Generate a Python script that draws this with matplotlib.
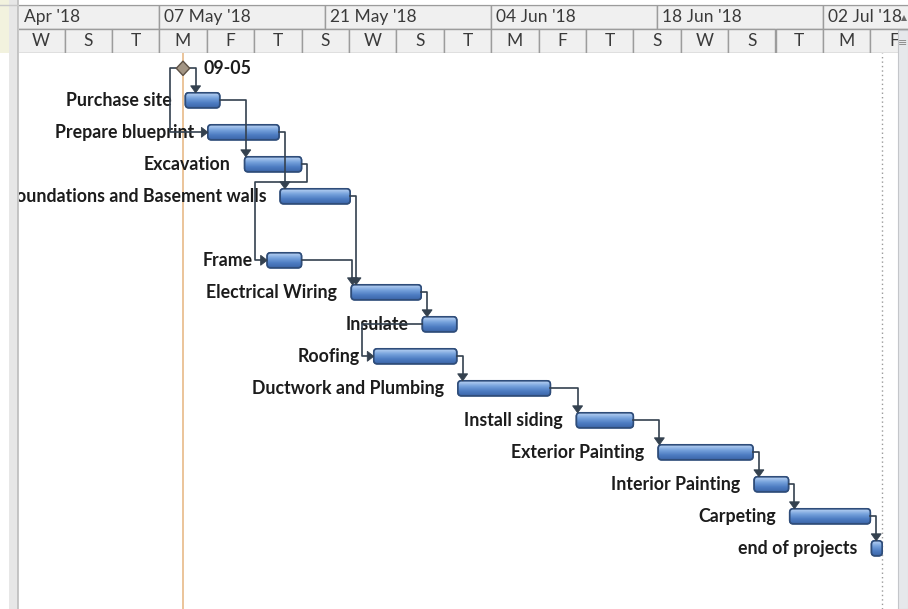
#!/usr/bin/env python3
"""Gantt chart (MS Project style) for a house building schedule."""

import numpy as np
import matplotlib
matplotlib.use("Agg")
import matplotlib.pyplot as plt
from matplotlib.patches import Rectangle, FancyBboxPatch, Polygon
from matplotlib.colors import LinearSegmentedColormap

# ---- data (days counted from Mon 07 May 2018) ----
REF_DATE = np.datetime64("2018-05-07")

milestone_label = "09-05"
milestone_day = 2.0
milestone_row = 0

task_names = ["Purchase site", "Prepare blueprint", "Excavation",
              "Foundations and Basement walls", "Frame", "Electrical Wiring",
              "Insulate", "Roofing", "Ductwork and Plumbing", "Install siding",
              "Exterior Painting", "Interior Painting", "Carpeting",
              "end of projects"]
task_rows = [1, 2, 3, 4, 6, 7, 8, 9, 10, 11, 12, 13, 14, 15]
task_start = [2.2, 4.1, 7.2, 10.2, 9.1, 16.2, 22.2, 18.1, 25.2, 35.2,
              42.1, 50.2, 53.2, 60.1]
task_finish = [5.1, 10.1, 12.0, 16.1, 12.0, 22.1, 25.1, 25.1, 33.0, 40.0,
               50.1, 53.1, 60.0, 61.0]

links = [
    ("09-05", "Purchase site", "FS"),
    ("09-05", "Prepare blueprint", "SS"),
    ("Purchase site", "Excavation", "FS"),
    ("Prepare blueprint", "Foundations and Basement walls", "FS"),
    ("Excavation", "Frame", "FS"),
    ("Foundations and Basement walls", "Electrical Wiring", "FS"),
    ("Frame", "Electrical Wiring", "FS"),
    ("Electrical Wiring", "Insulate", "FS"),
    ("Insulate", "Roofing", "SS"),
    ("Roofing", "Ductwork and Plumbing", "FS"),
    ("Ductwork and Plumbing", "Install siding", "FS"),
    ("Install siding", "Exterior Painting", "FS"),
    ("Exterior Painting", "Interior Painting", "FS"),
    ("Interior Painting", "Carpeting", "FS"),
    ("Carpeting", "end of projects", "FS"),
]

status_day = 2.0
finish_marker_day = 61.0

top_tier_dates = ["2018-04-23", "2018-05-07", "2018-05-21", "2018-06-04",
                  "2018-06-18", "2018-07-02"]
top_tier_labels = ["Apr '18", "07 May '18", "21 May '18", "04 Jun '18",
                   "18 Jun '18", "02 Jul '18"]
bottom_tier_first = "2018-04-25"
bottom_tier_labels = ["W", "S", "T", "M", "F", "T", "S", "W", "S", "T",
                      "M", "F", "T", "S", "W", "S", "T", "M", "F"]

# ---- layout (pixels of the 908x609 picture) ----
W, H = 908, 609
X0_PX, PX_PER_DAY = 159.3, 11.85
Y0_PX, PX_PER_ROW = 68.3, 32.0


def day_at(px):
    return (px - X0_PX) / PX_PER_DAY


def row_at(py):
    return (py - Y0_PX) / PX_PER_ROW


def frac(x0, y0, x1, y1):
    return [x0 / W, 1 - y1 / H, (x1 - x0) / W, (y1 - y0) / H]


def clean(ax):
    ax.set_xticks([])
    ax.set_yticks([])
    for s in ax.spines.values():
        s.set_visible(False)


FONT = "Lato"
LABEL_SIZE = 12.8
HDR_SIZE = 12.5
LINE_C = "#34414f"
BAR_EDGE = "#2f4d7a"
bar_cmap = LinearSegmentedColormap.from_list(
    "bar", ["#b6d0f2", "#76a2dc", "#4d7cc2", "#3c66a8"])

fig = plt.figure(figsize=(W / 100, H / 100), dpi=100)

# background decoration
bg = fig.add_axes([0, 0, 1, 1])
bg.set_xlim(0, W)
bg.set_ylim(H, 0)
bg.axis("off")
bg.add_patch(Rectangle((0, 0), 9, 53, fc="#f2f2de", ec="none"))
bg.add_patch(Rectangle((9, 0), 9, H, fc="#e7e7e7", ec="none"))
bg.plot([17.5, 17.5], [0, H], color="#bcbcbc", lw=1.2)
bg.plot([0, W], [4.5, 4.5], color="#c8c8c8", lw=1)

# ---- header ----
hdr = fig.add_axes(frac(19, 5, 908, 53))
clean(hdr)
hx0, hx1 = day_at(19), day_at(908)
for d, lab in zip(top_tier_dates, top_tier_labels):
    s = float((np.datetime64(d) - REF_DATE) / np.timedelta64(1, "D"))
    hdr.add_patch(Rectangle((s, 0), 14, 1, fc="#f0f0f0", ec="#9c9c9c", lw=1))
    hdr.text(max(s, hx0) + 0.4, 0.52, lab, ha="left", va="center",
             fontsize=HDR_SIZE, family=FONT, color="#3a3a3a", clip_on=True)
b0 = float((np.datetime64(bottom_tier_first) - REF_DATE) / np.timedelta64(1, "D"))
for i, lab in enumerate(bottom_tier_labels):
    s = b0 + 4 * i
    hdr.add_patch(Rectangle((s, 1), 4, 1, fc="#f0f0f0", ec="#9c9c9c", lw=1))
    hdr.text(s + 2, 1.52, lab, ha="center", va="center",
             fontsize=HDR_SIZE, family=FONT, color="#3a3a3a", clip_on=True)
hdr.set_xlim(hx0, hx1)
hdr.set_ylim(2, 0)

# ---- body ----
ax = fig.add_axes(frac(19, 53, 898, 609))
clean(ax)
ax.set_facecolor("white")

bar_h = 15 / PX_PER_ROW
round_px = 3.5
rs = round_px / PX_PER_DAY
asp = PX_PER_DAY / PX_PER_ROW
grad = np.linspace(0, 1, 40).reshape(-1, 1)

ax.axvline(status_day, color="#e6b47e", lw=1.1, zorder=1)
ax.axvline(finish_marker_day, color="#9a9a9a", lw=1.0, ls=(0, (1, 2.2)), zorder=1)

for name, r, s, f in zip(task_names, task_rows, task_start, task_finish):
    patch = FancyBboxPatch((s, r - bar_h / 2), f - s, bar_h,
                           boxstyle=f"round,pad=0,rounding_size={rs}",
                           mutation_aspect=asp, fc="#5d8ed4", ec=BAR_EDGE,
                           lw=1.1, zorder=3)
    ax.add_patch(patch)
    im = ax.imshow(grad, extent=[s, f, r + bar_h / 2, r - bar_h / 2],
                   cmap=bar_cmap, aspect="auto", zorder=3.1, interpolation="bilinear")
    im.set_clip_path(patch)
    edge = FancyBboxPatch((s, r - bar_h / 2), f - s, bar_h,
                          boxstyle=f"round,pad=0,rounding_size={rs}",
                          mutation_aspect=asp, fc="none", ec=BAR_EDGE,
                          lw=1.2, zorder=3.2)
    ax.add_patch(edge)
    ax.text(s - 14 / PX_PER_DAY, r, name, ha="right", va="center",
            fontsize=LABEL_SIZE, family=FONT, weight="bold", color="#1c1c1c",
            zorder=2, clip_on=True)

# milestone
mw, mh = 6.7 / PX_PER_DAY, 7.2 / PX_PER_ROW
ax.add_patch(Polygon([(milestone_day - mw, milestone_row),
                      (milestone_day, milestone_row - mh),
                      (milestone_day + mw, milestone_row),
                      (milestone_day, milestone_row + mh)],
                     closed=True, fc="#a39584", ec="#5e5246", lw=1.0, zorder=5))
ax.text(milestone_day + 21 / PX_PER_DAY, milestone_row, milestone_label,
        ha="left", va="center", fontsize=LABEL_SIZE, family=FONT, weight="bold",
        color="#1c1c1c", zorder=2)

# lookup for link routing: (date start, date finish, draw start, draw finish, row)
items = {milestone_label: (milestone_day, milestone_day,
                           milestone_day - mw, milestone_day + mw, milestone_row)}
for name, r, s, f in zip(task_names, task_rows, task_start, task_finish):
    items[name] = (s, f, s, f, r)

ah_w, ah_l = 5 / PX_PER_DAY, 7 / PX_PER_ROW      # down arrow
ar_l, ar_w = 6.5 / PX_PER_DAY, 5 / PX_PER_ROW    # right arrow


def down_arrow(x, y_tip):
    ax.add_patch(Polygon([(x - ah_w, y_tip - ah_l), (x + ah_w, y_tip - ah_l),
                          (x, y_tip)], closed=True, fc=LINE_C, ec=LINE_C,
                         lw=0.6, zorder=5))


def right_arrow(x_tip, y):
    ax.add_patch(Polygon([(x_tip - ar_l, y - ar_w), (x_tip - ar_l, y + ar_w),
                          (x_tip, y)], closed=True, fc=LINE_C, ec=LINE_C,
                         lw=0.6, zorder=5))


for pred, succ, kind in links:
    ps, pf, pds, pdf, pr = items[pred]
    ss, sf, sds, sdf, sr = items[succ]
    if kind == "SS":
        vx = min(pds - 0.5, sds - 1.0)
        pts = [(pds, pr), (vx, pr), (vx, sr), (sds - ar_l, sr)]
        right_arrow(sds, sr)
    elif ss >= pf:
        vx = max(sds + 0.1, pdf + 0.5)
        top = sr - bar_h / 2
        pts = [(pdf, pr), (vx, pr), (vx, top - ah_l)]
        down_arrow(vx, top)
    else:
        xr = pdf + 0.5
        yb = pr + 0.55
        xl = sds - 1.0
        pts = [(pdf, pr), (xr, pr), (xr, yb), (xl, yb), (xl, sr), (sds - ar_l, sr)]
        right_arrow(sds, sr)
    xs, ys = zip(*pts)
    ax.plot(xs, ys, color=LINE_C, lw=1.2, zorder=4, solid_joinstyle="round")

ax.set_xlim(day_at(19), day_at(898))
ax.set_ylim(row_at(609), row_at(53))

# ---- right scroll strip ----
sb = fig.add_axes(frac(898, 30, 908, 609))
sb.set_xticks([])
sb.set_yticks([])
sb.set_facecolor("#e6e8eb")
for s in sb.spines.values():
    s.set_color("#c4c6ca")
sb.set_xlim(0, 1)
sb.set_ylim(1, 0)
sb.text(0.45, 0.022, "≡", ha="center", va="center", fontsize=8, color="#8a8a8a",
        family="DejaVu Sans")

ov = fig.add_axes([0, 0, 1, 1])
ov.patch.set_alpha(0)
ov.axis("off")
ov.set_xlim(0, W)
ov.set_ylim(H, 0)
ov.add_patch(Polygon([(901, 21), (907, 21), (904, 15)], closed=True,
                     fc="#6a6a6a", ec="none"))

fig.savefig("out.png", dpi=100)
